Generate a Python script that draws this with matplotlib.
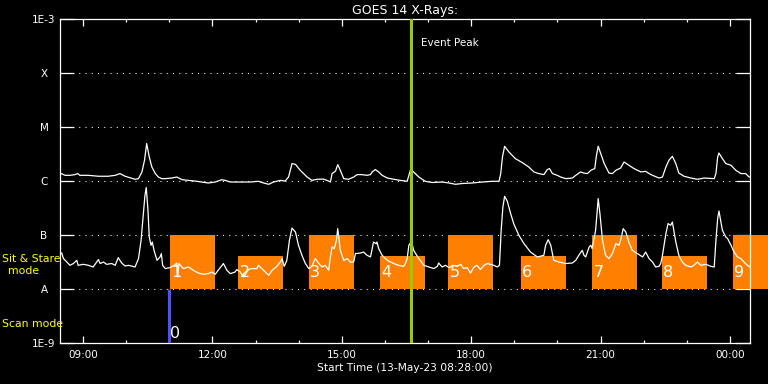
import numpy as np
import matplotlib
matplotlib.use('Agg')
import matplotlib.pyplot as plt
from matplotlib.patches import Rectangle
from matplotlib.ticker import NullLocator

# start of plot 13-May-23 08:28:00, times are hours after start
start_hour = 8 + 28 / 60.0

# long channel (1-8 A), flux in units of 1e-6 W/m^2
upper_t = [0.00, 0.12, 0.23, 0.35, 0.41, 0.46, 0.66, 0.89, 1.12, 1.28,
           1.39, 1.51, 1.74, 1.82, 1.90, 1.96, 2.01, 2.07, 2.13, 2.21,
           2.28, 2.36, 2.44, 2.59, 2.71, 2.83, 2.98, 3.13, 3.29, 3.44,
           3.60, 3.75, 3.83, 3.95, 4.18, 4.41, 4.60, 4.72, 4.84, 4.95,
           5.11, 5.22, 5.30, 5.38, 5.46, 5.57, 5.73, 5.84, 5.96, 6.11,
           6.23, 6.27, 6.31, 6.39, 6.44, 6.50, 6.58, 6.69, 6.81, 6.89,
           7.00, 7.12, 7.20, 7.24, 7.31, 7.39, 7.47, 7.59, 7.74, 7.89,
           8.05, 8.09, 8.13, 8.20, 8.32, 8.47, 8.63, 8.86, 9.02, 9.17,
           9.33, 9.56, 9.79, 10.02, 10.18, 10.22, 10.26, 10.31, 10.41, 10.56,
           10.72, 10.87, 10.99, 11.10, 11.22, 11.30, 11.35, 11.42, 11.53, 11.61,
           11.73, 11.88, 11.96, 12.07, 12.15, 12.23, 12.31, 12.40, 12.44, 12.48,
           12.54, 12.62, 12.73, 12.81, 12.89, 13.00, 13.08, 13.16, 13.31, 13.47,
           13.58, 13.66, 13.74, 13.89, 13.97, 14.05, 14.12, 14.20, 14.28, 14.35,
           14.47, 14.63, 14.78, 14.94, 15.17, 15.21, 15.25, 15.28, 15.36, 15.44,
           15.56, 15.67, 15.79, 15.90, 15.98, 16.00]
upper_f = [1.42, 1.29, 1.29, 1.33, 1.39, 1.29, 1.29, 1.24, 1.24, 1.29,
           1.39, 1.24, 1.09, 1.12, 1.49, 2.45, 5.0, 2.82, 1.84, 1.39,
           1.20, 1.12, 1.12, 1.15, 1.20, 1.07, 1.04, 1.01, 0.97, 0.93,
           0.97, 1.07, 1.04, 0.97, 0.97, 0.97, 1.0, 0.93, 0.88, 0.97,
           1.04, 1.01, 1.20, 2.13, 2.06, 1.6, 1.20, 1.04, 1.09, 1.10,
           1.01, 0.97, 1.39, 1.55, 2.04, 1.6, 1.12, 1.09, 1.20, 1.33,
           1.33, 1.29, 1.33, 1.49, 1.65, 1.49, 1.29, 1.15, 1.09, 1.04,
           1.0, 1.29, 1.65, 1.49, 1.20, 1.0, 0.95, 0.97, 0.93, 0.88,
           0.91, 0.93, 0.97, 1.0, 1.0, 1.39, 2.82, 4.45, 3.49, 2.63,
           2.22, 1.84, 1.49, 1.39, 1.33, 1.65, 1.72, 1.39, 1.29, 1.20,
           1.12, 1.15, 1.29, 1.49, 1.42, 1.39, 1.6, 1.72, 3.03, 4.45,
           3.26, 2.13, 1.42, 1.39, 1.6, 1.76, 2.28, 2.06, 1.72, 1.49,
           1.53, 1.39, 1.29, 1.15, 1.20, 1.84, 2.45, 2.9, 2.13, 1.42,
           1.24, 1.15, 1.09, 1.15, 1.12, 1.39, 2.82, 3.34, 2.63, 2.13,
           1.98, 1.6, 1.39, 1.39, 1.20, 1.20]

# short channel (0.5-4 A), flux in units of 1e-7 W/m^2
lower_t = [0.00, 0.04, 0.08, 0.16, 0.23, 0.31, 0.39, 0.42, 0.54, 0.66,
           0.77, 0.85, 0.89, 0.93, 1.01, 1.08, 1.20, 1.28, 1.35, 1.43,
           1.51, 1.59, 1.74, 1.82, 1.88, 1.93, 1.97, 2.00, 2.04, 2.07,
           2.11, 2.14, 2.18, 2.25, 2.32, 2.35, 2.38, 2.44, 2.55, 2.65,
           2.71, 2.73, 2.76, 2.86, 2.98, 3.09, 3.21, 3.33, 3.44, 3.52,
           3.60, 3.68, 3.79, 3.87, 3.95, 4.06, 4.10, 4.18, 4.26, 4.37,
           4.45, 4.57, 4.60, 4.68, 4.76, 4.84, 4.92, 5.03, 5.11, 5.15,
           5.20, 5.26, 5.32, 5.38, 5.46, 5.53, 5.61, 5.69, 5.77, 5.84,
           5.92, 6.00, 6.08, 6.15, 6.23, 6.27, 6.31, 6.36, 6.41, 6.44,
           6.50, 6.58, 6.66, 6.73, 6.81, 6.85, 6.97, 7.04, 7.12, 7.20,
           7.24, 7.27, 7.33, 7.35, 7.39, 7.47, 7.59, 7.74, 7.85, 7.97,
           8.01, 8.05, 8.09, 8.15, 8.20, 8.32, 8.44, 8.55, 8.67, 8.75,
           8.78, 8.86, 8.94, 9.02, 9.13, 9.21, 9.29, 9.36, 9.44, 9.52,
           9.60, 9.67, 9.75, 9.83, 9.91, 9.98, 10.06, 10.14, 10.19, 10.23,
           10.27, 10.31, 10.37, 10.45, 10.52, 10.64, 10.76, 10.91, 11.07, 11.22,
           11.26, 11.32, 11.38, 11.45, 11.57, 11.73, 11.88, 11.96, 12.03, 12.11,
           12.15, 12.19, 12.27, 12.31, 12.34, 12.42, 12.48, 12.52, 12.58, 12.65,
           12.73, 12.81, 12.89, 12.96, 13.00, 13.06, 13.12, 13.19, 13.27, 13.39,
           13.51, 13.58, 13.66, 13.74, 13.81, 13.89, 13.93, 13.97, 14.05, 14.10,
           14.16, 14.20, 14.28, 14.35, 14.43, 14.51, 14.63, 14.70, 14.78, 14.86,
           14.98, 15.09, 15.17, 15.21, 15.25, 15.28, 15.36, 15.44, 15.48, 15.56,
           15.63, 15.71, 15.79, 15.86, 15.94, 16.00]
lower_f = [0.458, 0.47, 0.37, 0.32, 0.278, 0.30, 0.344, 0.278, 0.29, 0.278,
           0.259, 0.32, 0.355, 0.30, 0.32, 0.29, 0.30, 0.278, 0.386, 0.307,
           0.27, 0.278, 0.259, 0.37, 0.808, 2.35, 5.5, 7.64, 2.9, 0.93,
           0.653, 0.75, 0.527, 0.344, 0.397, 0.458, 0.278, 0.242, 0.252, 0.278,
           0.307, 0.169, 0.30, 0.242, 0.259, 0.225, 0.20, 0.19, 0.195, 0.209,
           0.19, 0.232, 0.30, 0.225, 0.195, 0.209, 0.232, 0.209, 0.169, 0.232,
           0.242, 0.242, 0.278, 0.242, 0.209, 0.182, 0.225, 0.266, 0.32, 0.37,
           0.266, 0.344, 0.808, 1.36, 1.15, 0.653, 0.426, 0.30, 0.242, 0.266,
           0.37, 0.30, 0.259, 0.278, 0.225, 0.397, 0.607, 0.567, 0.808, 1.33,
           0.527, 0.344, 0.37, 0.32, 0.32, 0.458, 0.47, 0.49, 0.426, 0.397,
           0.567, 0.75, 0.70, 0.75, 0.567, 0.426, 0.344, 0.30, 0.278, 0.266,
           0.30, 0.37, 0.653, 0.774, 0.527, 0.37, 0.278, 0.259, 0.242, 0.266,
           0.307, 0.259, 0.278, 0.252, 0.278, 0.266, 0.29, 0.242, 0.252, 0.20,
           0.259, 0.278, 0.232, 0.278, 0.30, 0.29, 0.278, 0.259, 0.278, 1.238,
           3.34, 5.27, 4.32, 2.52, 1.65, 1.0, 0.70, 0.49, 0.397, 0.426,
           0.653, 0.83, 0.653, 0.344, 0.32, 0.30, 0.307, 0.344, 0.426, 0.527,
           0.426, 0.397, 0.607, 0.653, 0.567, 1.238, 4.78, 2.52, 0.808, 0.426,
           0.37, 0.458, 0.70, 0.653, 0.808, 1.33, 1.15, 0.75, 0.527, 0.458,
           0.397, 0.49, 0.37, 0.32, 0.259, 0.266, 0.30, 0.426, 1.075, 1.65,
           1.53, 1.76, 0.75, 0.426, 0.32, 0.278, 0.259, 0.278, 0.32, 0.278,
           0.29, 0.266, 0.259, 0.808, 2.04, 2.82, 1.238, 0.93, 0.87, 0.653,
           0.49, 0.397, 0.37, 0.32, 0.278, 0.259]

# observing windows (sit & stare = tall, scan = short)
box_start = [2.55, 4.13, 5.77, 7.42, 9.00, 10.69, 12.34, 13.96, 15.61]
box_dur = 1.04
box_top = [1e-7, 4.1e-8, 1e-7, 4.1e-8, 1e-7, 4.1e-8, 1e-7, 4.1e-8, 1e-7]
box_bottom = 1e-8
box_names = ['1', '2', '3', '4', '5', '6', '7', '8', '9']

scan_t = 2.52
peak_t = 8.13

levels = [1e-9, 1e-8, 1e-7, 1e-6, 1e-5, 1e-4, 1e-3]
level_names = ['1E-9', 'A', 'B', 'C', 'M', 'X', '1E-3']
tick_hours = [9, 12, 15, 18, 21, 24]
tick_names = ['09:00', '12:00', '15:00', '18:00', '21:00', '00:00']

fig = plt.figure(figsize=(7.68, 3.84), dpi=100, facecolor='black')
ax = fig.add_axes([60 / 768, 40.7 / 384, 690 / 768, 324 / 384])
ax.set_facecolor('black')
ax.set_yscale('log')
ax.set_xlim(0, 16)
ax.set_ylim(1e-9, 1e-3)

for s in ax.spines.values():
    s.set_color('white')
    s.set_linewidth(0.9)

for lv in levels[1:-1]:
    ax.axhline(lv, color='white', lw=0.75, ls=(0, (1, 5)), zorder=1)

orange = '#ff8000'
for i, st in enumerate(box_start):
    ax.add_patch(Rectangle((st, box_bottom), box_dur, box_top[i] - box_bottom,
                           facecolor=orange, edgecolor='none', zorder=2,
                           clip_on=(i < len(box_start) - 1)))
    ax.text(st + 0.03, 2.07e-8, box_names[i], color='white', fontsize=11.5,
            ha='left', va='center', zorder=5)

ax.plot(upper_t, np.array(upper_f) * 1e-6, color='white', lw=0.9, zorder=3)
ax.plot(lower_t, np.array(lower_f) * 1e-7, color='white', lw=0.9, zorder=3)

ax.vlines(scan_t, 1e-9, 1e-8, color='#5050ff', lw=2.2, zorder=4)
ax.text(scan_t + 0.02, 1.55e-9, '0', color='white', fontsize=11.5,
        ha='left', va='center', zorder=5)

ax.axvline(peak_t, color='#99cc00', lw=2.2, zorder=4)
ax.text(8.36, 3.6e-4, 'Event Peak', color='white', fontsize=7.5,
        ha='left', va='center')

# axes ticks
ax.set_yticks(levels, level_names)
ax.yaxis.set_minor_locator(NullLocator())
ax.tick_params(axis='y', which='major', direction='in', length=10, width=0.9,
               left=True, right=True, colors='white', pad=11.5, labelsize=7.5)
for lab in ax.get_yticklabels():
    lab.set_horizontalalignment('center')

ax.set_xticks([h - start_hour for h in tick_hours], tick_names)
ax.set_xticks([h - start_hour for h in range(9, 25)], minor=True)
ax.tick_params(axis='x', which='both', direction='in', top=True, bottom=True,
               colors='white', width=0.9, labelsize=7.5, pad=5)
ax.tick_params(axis='x', which='major', length=4.8)
ax.tick_params(axis='x', which='minor', length=2.5)

ax.set_xlabel('Start Time (13-May-23 08:28:00)', color='white', fontsize=7.7,
              va='center')
ax.xaxis.set_label_coords(0.5, -0.0762)
ax.set_title('GOES 14 X-Rays:', color='white', fontsize=9, y=1.0287,
             va='center', pad=0)

fig.text(2 / 768, 1 - 259 / 384, 'Sit & Stare', color='yellow', fontsize=7.8,
         ha='left', va='center')
fig.text(24 / 768, 1 - 271 / 384, 'mode', color='yellow', fontsize=7.8,
         ha='center', va='center')
fig.text(2 / 768, 1 - 324 / 384, 'Scan mode', color='yellow', fontsize=7.8,
         ha='left', va='center')

plt.savefig('out.png', dpi=100, facecolor='black')
